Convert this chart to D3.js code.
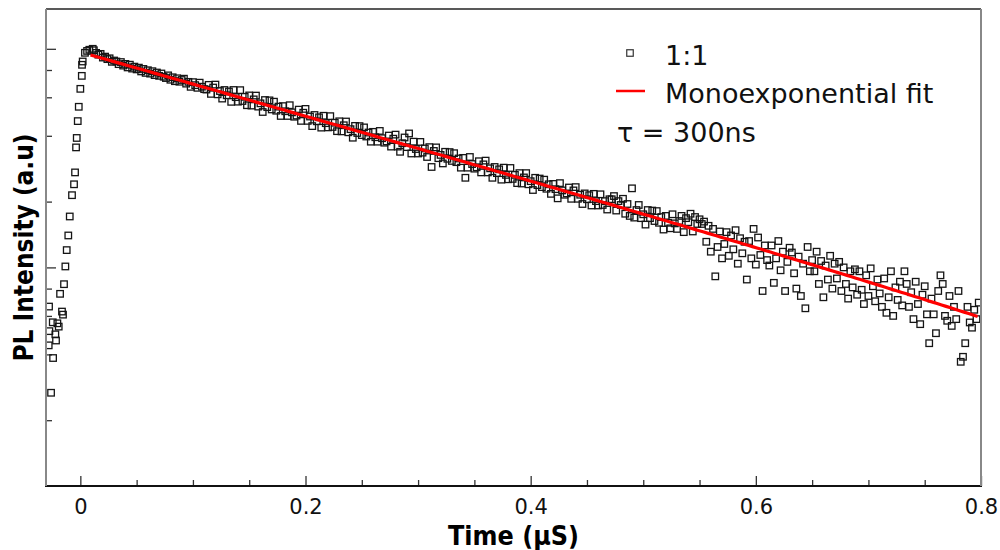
<!DOCTYPE html>
<html>
<head>
<meta charset="utf-8">
<script src="https://cdn.jsdelivr.net/npm/d3@7"></script>
<style>
  body { margin: 0; background: #fff; }
  svg { display: block; }
</style>
</head>
<body>
<svg id="chart" width="1000" height="550"></svg>
<script>
// ---- data: PL decay, time in µs, intensity in a.u. ----
const riseData = [
  [-0.0281, 44.0], [-0.0278, 66.2], [-0.0275, 51.1], [-0.0260, 26.7], [-0.0245, 56.1],
  [-0.0242, 38.5], [-0.0222, 49.4], [-0.0216, 46.3], [-0.0204, 55.5], [-0.0192, 53.6],
  [-0.0180, 75.7], [-0.0163, 62.8], [-0.0154, 60.8], [-0.0145, 83.8], [-0.0133, 101],
  [-0.0121, 120], [-0.0107, 140], [-0.0094, 171], [-0.0074, 214], [-0.0056, 240],
  [-0.0047, 272], [-0.0038, 354], [-0.0032, 391], [-0.0023, 467], [-0.0014, 543],
  [0.0000, 656], [0.0013, 752], [0.0015, 845], [0.0021, 875], [0.0041, 959],
  [0.0060, 978], [0.0080, 990], [0.0110, 1000]
];

const decayData = [
  [0.012,985],[0.014,958],[0.016,940],[0.018,948],[0.020,912],[0.022,921],[0.024,897],[0.026,905],[0.028,872],[0.030,884],
  [0.032,875],[0.034,851],[0.036,870],[0.038,838],[0.040,853],[0.042,822],[0.044,846],[0.046,812],[0.048,829],[0.050,805],
  [0.052,820],[0.054,788],[0.056,809],[0.058,776],[0.060,798],[0.062,770],[0.064,790],[0.066,758],[0.068,779],[0.070,752],
  [0.072,771],[0.074,745],[0.076,735],[0.078,756],[0.080,722],[0.082,741],[0.084,711],[0.086,733],[0.088,707],[0.090,720],
  [0.092,730],[0.094,693],[0.096,706],[0.098,670],[0.100,704],[0.102,682],[0.104,663],[0.106,700],[0.108,671],[0.110,654],
  [0.112,651],[0.114,684],[0.116,622],[0.118,665],[0.120,686],[0.122,619],[0.124,641],[0.126,592],[0.128,648],[0.130,613],
  [0.132,638],[0.134,572],[0.136,648],[0.138,601],[0.140,573],[0.142,647],[0.144,577],[0.146,603],[0.148,552],[0.150,612],
  [0.152,550],[0.154,587],[0.156,611],[0.158,544],[0.160,563],[0.162,514],[0.164,583],[0.166,541],[0.168,581],[0.170,528],
  [0.172,573],[0.174,521],[0.176,544],[0.178,493],[0.180,547],[0.182,518],[0.184,493],[0.186,552],[0.188,512],[0.190,489],
  [0.192,495],[0.194,527],[0.196,468],[0.198,510],[0.200,531],[0.202,468],[0.204,490],[0.206,443],[0.208,498],[0.210,466],
  [0.212,486],[0.214,436],[0.216,494],[0.218,457],[0.220,437],[0.222,492],[0.224,439],[0.226,459],[0.228,420],[0.230,466],
  [0.232,419],[0.234,447],[0.236,465],[0.238,415],[0.240,429],[0.242,392],[0.244,444],[0.246,412],[0.248,443],[0.250,403],
  [0.252,437],[0.254,397],[0.256,414],[0.258,376],[0.260,417],[0.262,394],[0.264,376],[0.266,421],[0.268,390],[0.270,372],
  [0.272,377],[0.274,401],[0.276,357],[0.278,388],[0.280,405],[0.282,357],[0.284,338],[0.286,370],[0.288,393],[0.290,355],
  [0.292,410],[0.294,332],[0.296,376],[0.298,348],[0.300,332],[0.302,375],[0.304,335],[0.306,350],[0.308,320],[0.310,355],
  [0.312,288],[0.314,341],[0.316,354],[0.318,316],[0.320,327],[0.322,299],[0.324,338],[0.326,314],[0.328,337],[0.330,307],
  [0.332,333],[0.334,303],[0.336,315],[0.338,286],[0.340,317],[0.342,257],[0.344,286],[0.346,320],[0.348,297],[0.350,283],
  [0.352,287],[0.354,306],[0.356,272],[0.358,296],[0.360,308],[0.362,272],[0.364,284],[0.366,257],[0.368,288],[0.370,270],
  [0.372,281],[0.374,252],[0.376,286],[0.378,265],[0.380,253],[0.382,285],[0.384,254],[0.386,265],[0.388,243],[0.390,270],
  [0.392,242],[0.394,258],[0.396,270],[0.398,240],[0.400,248],[0.402,226],[0.404,257],[0.406,238],[0.408,255],[0.410,233],
  [0.412,252],[0.414,229],[0.416,240],[0.418,217],[0.420,241],[0.422,228],[0.424,207],[0.426,243],[0.428,225],[0.430,215],
  [0.432,218],[0.434,232],[0.436,206],[0.438,225],[0.440,233],[0.442,206],[0.444,215],[0.446,195],[0.448,218],[0.450,205],
  [0.452,214],[0.454,192],[0.456,217],[0.458,201],[0.460,192],[0.462,216],[0.464,193],[0.466,201],[0.468,184],[0.470,205],
  [0.472,205],[0.474,212],[0.476,182],[0.478,201],[0.480,193],[0.482,206],[0.484,176],[0.486,195],[0.488,172],[0.490,230],
  [0.492,169],[0.494,183],[0.496,193],[0.498,168],[0.500,175],[0.502,157],[0.504,183],[0.506,168],[0.508,182],[0.510,163],
  [0.512,181],[0.514,160],[0.516,170],[0.518,149],[0.520,172],[0.522,160],[0.524,151],[0.526,175],[0.528,159],[0.530,150],
  [0.532,163],[0.534,172],[0.536,145],[0.538,168],[0.540,161],[0.542,176],[0.544,146],[0.546,170],[0.548,158],[0.550,166],
  [0.552,158],[0.554,162],[0.556,131],[0.558,155],[0.560,118],[0.562,150],[0.564,91],[0.566,124],[0.568,146],[0.570,110],
  [0.572,128],[0.574,145],[0.576,113],[0.578,140],[0.580,121],[0.582,148],[0.584,104],[0.586,136],[0.588,116],[0.590,131],
  [0.592,88],[0.594,132],[0.596,110],[0.598,150],[0.600,103],[0.602,137],[0.604,114],[0.606,78],[0.608,126],[0.610,108],
  [0.612,102],[0.614,126],[0.616,85],[0.618,110],[0.620,132],[0.622,97],[0.624,118],[0.626,78],[0.628,106],[0.630,123],
  [0.632,117],[0.634,94],[0.636,80],[0.638,112],[0.640,74],[0.642,104],[0.644,65],[0.646,124],[0.648,96],[0.650,108],
  [0.652,96],[0.654,118],[0.656,84],[0.658,107],[0.660,73],[0.662,102],[0.664,88],[0.666,113],[0.668,80],[0.670,104],
  [0.672,89],[0.674,106],[0.676,78],[0.678,100],[0.680,84],[0.682,72],[0.684,96],[0.686,81],[0.688,98],[0.690,75],
  [0.692,96],[0.694,79],[0.696,68],[0.698,92],[0.700,74],[0.702,99],[0.704,82],[0.706,70],[0.708,88],[0.710,76],
  [0.712,66],[0.714,89],[0.716,62],[0.718,73],[0.720,96],[0.722,60],[0.724,81],[0.726,71],[0.728,86],[0.730,67],
  [0.732,96],[0.734,84],[0.736,66],[0.738,77],[0.740,58],[0.742,86],[0.744,68],[0.746,55],[0.748,75],[0.750,82],
  [0.752,61],[0.754,45],[0.756,72],[0.758,61],[0.760,50],[0.762,78],[0.764,92],[0.766,84],[0.768,60],[0.770,57],
  [0.772,74],[0.774,54],[0.776,66],[0.778,58],[0.780,78],[0.782,37],[0.784,39],[0.786,45],[0.788,66],[0.790,56],
  [0.792,53],[0.794,64],[0.796,58],[0.798,69]
];

// monoexponential fit parameters: I(t) = A·exp(-t/τ) + offset
const tauNs = 300;
const fitAmplitude = 975;
const fitOffset = -8.8;
const fitRange = [0.009, 0.8];

// axis ticks and labels
const xMajorTicks = [0, 0.2, 0.4, 0.6, 0.8];
const xTickLabels = ["0", "0.2", "0.4", "0.6", "0.8"];
const xMinorTicks = [0.05, 0.1, 0.15, 0.25, 0.3, 0.35, 0.45, 0.5, 0.55, 0.65, 0.7, 0.75];
const yMajorTicks = [100, 1000];
const yMinorTicks = [20, 40, 60, 80, 200, 400, 600, 800];
const seriesLabel = "1:1";
const fitLabel = "Monoexponential fit";
const tauLabel = "τ = " + tauNs + "ns";

// ---- layout ----
const plot = { left: 46, right: 981, top: 9, bottom: 486 };
const svg = d3.select("#chart");

const x = d3.scaleLinear().domain([-0.0305, 0.8]).range([plot.left, plot.right]);
const y = d3.scaleLog().domain([10, 1521]).range([plot.bottom, plot.top]);

svg.append("clipPath").attr("id", "plot-clip")
  .append("rect")
  .attr("x", plot.left).attr("y", plot.top)
  .attr("width", plot.right - plot.left).attr("height", plot.bottom - plot.top);

// ---- ticks (pointing inward, no y labels) ----
const tickColor = "#333";
const xMajor = d3.axisBottom(x).tickValues(xMajorTicks)
  .tickSizeInner(-10).tickSizeOuter(0).tickPadding(13)
  .tickFormat((d, i) => xTickLabels[i]);
const xMinor = d3.axisBottom(x).tickValues(xMinorTicks)
  .tickSizeInner(-6).tickSizeOuter(0).tickFormat(() => "");
const yMajor = d3.axisLeft(y).tickValues(yMajorTicks)
  .tickSizeInner(-10).tickSizeOuter(0).tickFormat(() => "");
const yMinor = d3.axisLeft(y).tickValues(yMinorTicks)
  .tickSizeInner(-6).tickSizeOuter(0).tickFormat(() => "");

function styleAxis(g) {
  g.select(".domain").remove();
  g.selectAll(".tick line").attr("stroke", tickColor).attr("stroke-width", 1.3);
  g.selectAll(".tick text")
    .attr("fill", "#111")
    .style("font-family", "'DejaVu Sans', Verdana, sans-serif")
    .style("font-size", "21px");
}

svg.append("g").attr("transform", `translate(0,${plot.bottom})`).call(xMajor).call(styleAxis);
svg.append("g").attr("transform", `translate(0,${plot.bottom})`).call(xMinor).call(styleAxis);
svg.append("g").attr("transform", `translate(${plot.left},0)`).call(yMajor).call(styleAxis);
svg.append("g").attr("transform", `translate(${plot.left},0)`).call(yMinor).call(styleAxis);

// ---- data markers ----
const points = riseData.concat(decayData);
const markerSize = 6.5;
svg.append("g").attr("clip-path", "url(#plot-clip)")
  .selectAll("rect")
  .data(points)
  .join("rect")
  .attr("x", d => x(d[0]) - markerSize / 2)
  .attr("y", d => y(d[1]) - markerSize / 2)
  .attr("width", markerSize)
  .attr("height", markerSize)
  .attr("fill", "none")
  .attr("stroke", "#151515")
  .attr("stroke-width", 1.3);

// ---- fit curve ----
const tauUs = tauNs / 1000;
const fitTimes = d3.range(fitRange[0], fitRange[1] + 1e-9, 0.004);
const fitLine = d3.line()
  .x(t => x(t))
  .y(t => y(fitAmplitude * Math.exp(-t / tauUs) + fitOffset));
svg.append("path")
  .datum(fitTimes)
  .attr("clip-path", "url(#plot-clip)")
  .attr("d", fitLine)
  .attr("fill", "none")
  .attr("stroke", "#ff0000")
  .attr("stroke-width", 3.2);

// ---- frame ----
const frame = svg.append("g");
frame.append("line").attr("x1", plot.left).attr("x2", plot.right).attr("y1", plot.top).attr("y2", plot.top)
  .attr("stroke", "#222").attr("stroke-width", 1.5);
frame.append("line").attr("x1", plot.left - 1).attr("x2", plot.right + 1).attr("y1", plot.bottom).attr("y2", plot.bottom)
  .attr("stroke", "#111").attr("stroke-width", 2);
frame.append("line").attr("x1", plot.left).attr("x2", plot.left).attr("y1", plot.top).attr("y2", plot.bottom)
  .attr("stroke", "#888").attr("stroke-width", 2);
frame.append("line").attr("x1", plot.right).attr("x2", plot.right).attr("y1", plot.top).attr("y2", plot.bottom)
  .attr("stroke", "#888").attr("stroke-width", 2);

// ---- legend ----
const legendFont = "'DejaVu Sans', Verdana, sans-serif";
const legend = svg.append("g").style("font-family", legendFont).style("font-size", "27px").attr("fill", "#111");
legend.append("rect")
  .attr("x", 630 - markerSize / 2).attr("y", 53 - markerSize / 2)
  .attr("width", markerSize).attr("height", markerSize)
  .attr("fill", "none").attr("stroke", "#333").attr("stroke-width", 1.2);
legend.append("text").attr("x", 665).attr("y", 65).text(seriesLabel);
legend.append("line").attr("x1", 616).attr("x2", 645).attr("y1", 91).attr("y2", 91)
  .attr("stroke", "#ff0000").attr("stroke-width", 2.5);
legend.append("text").attr("x", 665).attr("y", 103).text(fitLabel);
legend.append("text").attr("x", 617).attr("y", 142).text(tauLabel);

// ---- axis titles ----
svg.append("text")
  .attr("x", (plot.left + plot.right) / 2).attr("y", 545)
  .attr("text-anchor", "middle")
  .attr("textLength", 131).attr("lengthAdjust", "spacingAndGlyphs")
  .style("font-family", "'DejaVu Sans', Verdana, sans-serif")
  .style("font-weight", "bold").style("font-size", "27px")
  .attr("fill", "#000")
  .text("Time (µS)");

svg.append("text")
  .attr("transform", `translate(33,${(plot.top + plot.bottom) / 2}) rotate(-90)`)
  .attr("text-anchor", "middle")
  .attr("textLength", 228).attr("lengthAdjust", "spacingAndGlyphs")
  .style("font-family", "'DejaVu Sans', Verdana, sans-serif")
  .style("font-weight", "bold").style("font-size", "27px")
  .attr("fill", "#000")
  .text("PL Intensity (a.u)");
</script>
</body>
</html>
